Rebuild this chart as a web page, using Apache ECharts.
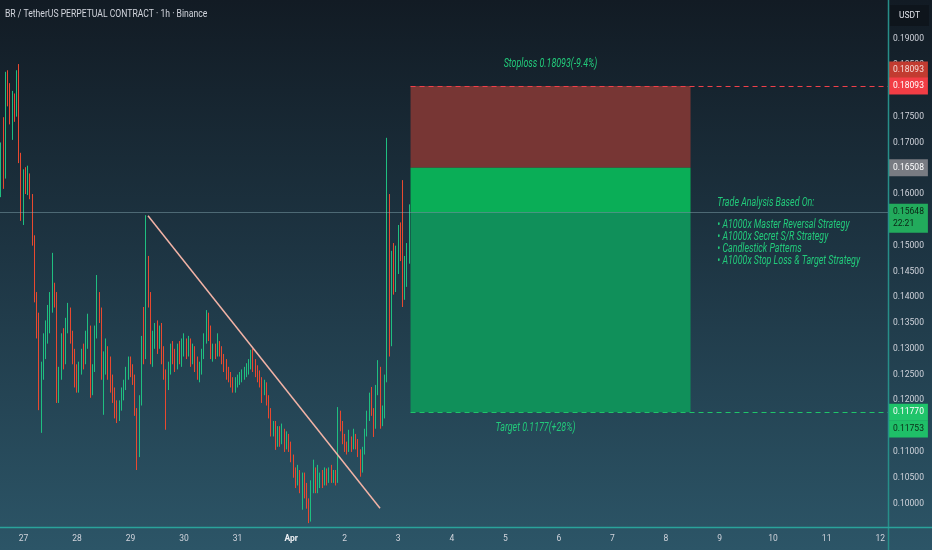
<!DOCTYPE html>
<html><head><meta charset="utf-8">
<script src="https://cdn.jsdelivr.net/npm/echarts@6/dist/echarts.min.js"></script>
<style>html,body{margin:0;padding:0;background:#131c25;}#c{width:932px;height:550px;}</style>
</head><body><div id="c"></div><script>
const titleText = 'BR / TetherUS PERPETUAL CONTRACT · 1h · Binance';
const currencyText = 'USDT';
const countdownText = '22:21';
const monthNames = ['Jan','Feb','Mar','Apr','May','Jun','Jul','Aug','Sep','Oct','Nov','Dec'];
// first hourly candle: 2025-03-26 14:00
const firstCandle = [2025, 2, 26, 14, 0];
// [open, close, low, high] per hour
const ohlc = [
[.1625,.1668,.1594,.1700],[.1668,.1640,.1610,.1749],[.1640,.1835,.1630,.1837],[.1835,.1800,.1770,.1840],
[.1800,.1760,.1735,.1815],[.1760,.1785,.1705,.1800],[.1785,.1760,.1740,.1795],[.1760,.1825,.1750,.1840],
[.1825,.1670,.1660,.1852],[.1670,.1560,.1548,.1680],[.1560,.1640,.1540,.1648],[.1640,.1620,.1600,.1652],
[.1620,.1630,.1598,.1655],[.1630,.1595,.1590,.1640],[.1595,.1510,.1500,.1600],[.1510,.1400,.1390,.1520],
[.1400,.1340,.1320,.1410],[.1340,.1195,.1181,.1370],[.1195,.1260,.1137,.1275],[.1260,.1300,.1240,.1330],
[.1300,.1340,.1280,.1355],[.1340,.1360,.1310,.1385],[.1360,.1390,.1330,.1410],[.1390,.1420,.1370,.1486],
[.1420,.1400,.1380,.1428],[.1400,.1210,.1195,.1410],[.1210,.1250,.1195,.1265],[.1250,.1310,.1240,.1330],
[.1310,.1280,.1260,.1340],[.1280,.1340,.1270,.1360],[.1340,.1370,.1330,.1389],[.1370,.1320,.1310,.1380],
[.1320,.1290,.1270,.1335],[.1290,.1240,.1225,.1300],[.1240,.1225,.1215,.1270],[.1225,.1260,.1215,.1275],
[.1260,.1290,.1250,.1300],[.1290,.1275,.1260,.1310],[.1275,.1320,.1270,.1335],[.1320,.1340,.1300,.1368],
[.1340,.1215,.1205,.1345],[.1215,.1260,.1210,.1270],[.1260,.1330,.1255,.1345],[.1330,.1395,.1320,.1443],
[.1395,.1370,.1350,.1410],[.1370,.1250,.1240,.1380],[.1250,.1280,.1172,.1295],[.1280,.1300,.1250,.1320],
[.1300,.1265,.1240,.1305],[.1265,.1230,.1215,.1285],[.1230,.1210,.1195,.1250],[.1210,.1180,.1165,.1225],
[.1180,.1165,.1156,.1200],[.1165,.1190,.1160,.1200],[.1190,.1210,.1180,.1225],[.1210,.1230,.1200,.1240],
[.1230,.1250,.1220,.1265],[.1250,.1270,.1240,.1285],[.1270,.1260,.1245,.1285],[.1260,.1240,.1230,.1270],
[.1240,.1180,.1170,.1250],[.1180,.1100,.1065,.1185],[.1100,.1200,.1090,.1210],[.1200,.1310,.1190,.1325],
[.1310,.1290,.1270,.1381],[.1290,.1466,.1280,.1559],[.1466,.1400,.1380,.1480],[.1400,.1290,.1270,.1410],
[.1290,.1320,.1265,.1335],[.1320,.1340,.1300,.1350],[.1340,.1310,.1290,.1355],[.1310,.1330,.1300,.1345],
[.1330,.1290,.1270,.1350],[.1290,.1250,.1240,.1305],[.1250,.1230,.1143,.1260],[.1230,.1260,.1220,.1275],
[.1260,.1300,.1250,.1310],[.1300,.1290,.1270,.1315],[.1290,.1275,.1255,.1300],[.1275,.1300,.1260,.1310],
[.1300,.1285,.1270,.1315],[.1285,.1300,.1265,.1320],[.1300,.1310,.1285,.1330],[.1310,.1295,.1280,.1320],
[.1295,.1310,.1285,.1325],[.1310,.1280,.1265,.1320],[.1280,.1300,.1270,.1310],[.1300,.1270,.1255,.1305],
[.1270,.1255,.1240,.1285],[.1255,.1260,.1235,.1275],[.1260,.1290,.1250,.1300],[.1290,.1320,.1280,.1330],
[.1320,.1350,.1310,.1375],[.1350,.1335,.1315,.1370],[.1335,.1285,.1280,.1345],[.1285,.1300,.1275,.1310],
[.1300,.1290,.1280,.1310],[.1290,.1305,.1285,.1330],[.1305,.1295,.1285,.1315],[.1295,.1280,.1270,.1305],
[.1280,.1270,.1255,.1290],[.1270,.1255,.1240,.1280],[.1255,.1245,.1235,.1265],[.1245,.1235,.1225,.1255],
[.1235,.1225,.1215,.1245],[.1225,.1235,.1215,.1245],[.1235,.1240,.1225,.1250],[.1240,.1245,.1230,.1255],
[.1245,.1250,.1235,.1260],[.1250,.1255,.1240,.1265],[.1255,.1262,.1245,.1272],[.1262,.1268,.1250,.1280],
[.1268,.1285,.1260,.1298],[.1285,.1270,.1255,.1300],[.1270,.1260,.1245,.1280],[.1260,.1250,.1235,.1268],
[.1250,.1240,.1225,.1258],[.1240,.1225,.1195,.1245],[.1225,.1230,.1210,.1240],[.1230,.1200,.1190,.1235],
[.1200,.1175,.1165,.1210],[.1175,.1140,.1130,.1185],[.1140,.1150,.1130,.1160],[.1150,.1125,.1104,.1160],
[.1125,.1140,.1110,.1150],[.1140,.1130,.1110,.1150],[.1130,.1140,.1115,.1155],[.1140,.1120,.1100,.1145],
[.1120,.1130,.1105,.1140],[.1130,.1115,.1100,.1135],[.1115,.1090,.1080,.1120],[.1090,.1060,.1050,.1095],
[.1060,.1045,.1030,.1070],[.1045,.1060,.1035,.1075],[.1060,.1040,.1020,.1065],[.1040,.1050,.0988,.1060],
[.1050,.1030,.1010,.1060],[.1030,.1005,.0990,.1040],[.1005,.0975,.0962,.1010],[.0975,.1030,.0965,.1045],
[.1030,.1045,.1020,.1085],[.1045,.1035,.1020,.1070],[.1035,.1040,.1020,.1075],[.1040,.1050,.1030,.1060],
[.1050,.1040,.1030,.1065],[.1040,.1055,.1035,.1070],[.1055,.1045,.1035,.1068],[.1045,.1060,.1040,.1070],
[.1060,.1050,.1040,.1075],[.1050,.1055,.1040,.1065],[.1055,.1045,.1035,.1065],[.1045,.1168,.1040,.1187],
[.1168,.1150,.1140,.1180],[.1150,.1125,.1115,.1160],[.1125,.1110,.1100,.1135],[.1110,.1105,.1095,.1120],
[.1105,.1120,.1100,.1143],[.1120,.1110,.1100,.1130],[.1110,.1125,.1105,.1145],[.1125,.1115,.1105,.1135],
[.1115,.1100,.1090,.1125],[.1100,.1075,.1052,.1105],[.1075,.1100,.1060,.1110],[.1100,.1135,.1095,.1145],
[.1135,.1165,.1130,.1180],[.1165,.1190,.1160,.1215],[.1190,.1180,.1170,.1226],[.1180,.1150,.1129,.1185],
[.1150,.1215,.1145,.1230],[.1215,.1260,.1210,.1278],[.1260,.1160,.1145,.1265],[.1160,.1175,.1150,.1190],
[.1175,.1240,.1165,.1250],[.1240,.1590,.1235,.1709],[.1590,.1312,.1285,.1600],[.1312,.1450,.1305,.1490],
[.1450,.1420,.1405,.1505],[.1420,.1480,.1410,.1500],[.1480,.1530,.1445,.1540],[.1530,.1500,.1470,.1545],
[.1500,.1400,.1381,.1627],[.1400,.1460,.1395,.1480],[.1460,.1470,.1420,.1505],[.1470,.15648,.1465,.1580]
];
const axisStart = [2025, 2, 26, 13, 30];
const axisEnd = [2025, 3, 12, 3, 30];
const priceMin = 0.09545, priceMax = 0.19762;
const stopPrice = 0.18093, entryPrice = 0.16508, lastPrice = 0.15648, targetPrice = 0.1177, targetTagPrice = 0.11753;
const positionStart = [2025, 3, 3, 5, 30];
const positionEnd = [2025, 3, 8, 11, 0];
const trendLine = [[[2025, 2, 29, 7, 50], 0.1558], [[2025, 3, 2, 15, 50], 0.0991]];
const stopLabel = 'Stoploss 0.18093(-9.4%)';
const targetLabel = 'Target 0.1177(+28%)';
const analysisTitle = 'Trade Analysis Based On:';
const analysisItems = ['A1000x Master Reversal Strategy', 'A1000x Secret S/R Strategy', 'Candlestick Patterns', 'A1000x Stop Loss & Target Strategy'];
const analysisAnchor = [2025, 3, 8, 23, 0];
const analysisTitlePrice = 0.15826, analysisItemsPrice = 0.15051;

const HOUR = 3600 * 1000, DAY = 24 * HOUR;
const T = a => new Date(a[0], a[1], a[2], a[3] || 0, a[4] || 0).getTime();
const t0 = T(firstCandle);
const candles = ohlc.map((r, i) => [t0 + i * HOUR, r[0], r[1], r[2], r[3]]);
const font = "Roboto, 'Liberation Sans', sans-serif";
const txt = '#d1d4dc', annoGreen = '#22c97a';
const pS = T(positionStart), pE = T(positionEnd), xMin = T(axisStart), xMax = T(axisEnd);
const FS = 8.5;

function tag(value, bg, fg, dy, text, lineColor) {
  return [{ coord: [xMin, value] }, { coord: [xMax, value],
    lineStyle: { color: lineColor || 'rgba(0,0,0,0)', width: 1, type: 'solid' },
    label: { show: true, position: 'end', distance: 1, formatter: text || value.toFixed(5), backgroundColor: bg,
      color: fg, padding: [3, 4, 2, 4], fontSize: FS, lineHeight: 12, fontFamily: font, offset: [0, dy] } }];
}

const chart = echarts.init(document.getElementById('c'), null, { renderer: 'canvas' });
chart.setOption({
  animation: false,
  backgroundColor: { type: 'linear', x: 0, y: 0, x2: 0, y2: 1, colorStops: [
    { offset: 0, color: '#121b24' }, { offset: 0.45, color: '#1d3442' }, { offset: 1, color: '#2c5567' }] },
  grid: { left: 0, right: 44, top: 0, bottom: 23 },
  xAxis: { type: 'time', min: xMin, max: xMax, minInterval: DAY, maxInterval: DAY,
    splitLine: { show: false }, axisLine: { show: false }, axisTick: { show: false },
    axisLabel: { color: txt, fontSize: FS, margin: 7, fontFamily: font, showMinLabel: false, showMaxLabel: false,
      formatter: v => { const d = new Date(v); if (d.getHours() || d.getMinutes()) return '';
        return d.getDate() === 1 ? '{b|' + monthNames[d.getMonth()] + '}' : String(d.getDate()); },
      rich: { b: { fontWeight: 'bold', color: '#eef0f4', fontSize: FS, fontFamily: font } } } },
  yAxis: { type: 'value', position: 'right', min: priceMin, max: priceMax, splitNumber: 20,
    minInterval: 0.005, maxInterval: 0.005, splitLine: { show: false }, axisLine: { show: false }, axisTick: { show: false },
    axisLabel: { color: txt, fontSize: FS, margin: 5, fontFamily: font, showMinLabel: false, showMaxLabel: false,
      formatter: v => v.toFixed(5) } },
  series: [{
    type: 'candlestick', clip: false, data: candles, encode: { x: 0, y: [1, 2, 3, 4] }, barWidth: 1,
    itemStyle: { color: '#1fbf80', color0: '#e9492f', borderColor: '#1fbf80', borderColor0: '#e9492f', borderWidth: 1 },
    markArea: { silent: true, label: { show: false }, data: [
      [{ xAxis: pS, yAxis: stopPrice, itemStyle: { color: '#773634' } }, { xAxis: pE, yAxis: entryPrice }],
      [{ xAxis: pS, yAxis: entryPrice, itemStyle: { color: '#0aae57' } }, { xAxis: pE, yAxis: lastPrice }],
      [{ xAxis: pS, yAxis: lastPrice, itemStyle: { color: '#10905a' } }, { xAxis: pE, yAxis: targetPrice }]
    ] },
    markLine: { silent: true, symbol: 'none', precision: 6, label: { show: false }, data: [
      [{ coord: [T(trendLine[0][0]), trendLine[0][1]] }, { coord: [T(trendLine[1][0]), trendLine[1][1]], lineStyle: { color: '#f2b3a6', width: 1.5, type: 'solid' } }],
      [{ coord: [pS, stopPrice] }, { coord: [xMax, stopPrice], lineStyle: { color: '#f0404a', width: 1.2, type: [5, 4] } }],
      [{ coord: [pS, targetPrice] }, { coord: [xMax, targetPrice], lineStyle: { color: '#1fc46a', width: 1.2, type: [5, 4] } }],
      tag(lastPrice, '#22ab5c', '#0b2416', 6, lastPrice.toFixed(5) + '\n' + countdownText, 'rgba(140,175,185,0.45)'),
      tag(stopPrice, '#c23b30', '#f6dcd8', -16),
      tag(stopPrice, '#f23d45', '#ffffff', 0),
      tag(entryPrice, '#787b82', '#ffffff', 0),
      tag(targetPrice, '#1fc46a', '#ffffff', 0),
      tag(targetTagPrice, '#1fbf68', '#0b2a16', 16)
    ] }
  }]
});

// annotation texts anchored to the position tool via the chart's own scales
const px = (t, p) => chart.convertToPixel({ gridIndex: 0 }, [t, p]);
const a = px(pS, stopPrice), b = px(pE, targetPrice), h = px(T(analysisAnchor), analysisTitlePrice), it = px(T(analysisAnchor), analysisItemsPrice);
const midX = (a[0] + b[0]) / 2;
const ital = { fill: annoGreen, fontSize: 12, fontStyle: 'italic', fontFamily: font, verticalAlign: 'middle' };
const SX = 0.74;
chart.setOption({ graphic: [
  { type: 'line', z: 50, silent: true, shape: { x1: 888.5, y1: 0, x2: 888.5, y2: 550 }, style: { stroke: '#278e89', lineWidth: 1.5 } },
  { type: 'line', z: 50, silent: true, shape: { x1: 0, y1: 527.5, x2: 932, y2: 527.5 }, style: { stroke: '#2aa39b', lineWidth: 1.5 } },
  { type: 'rect', z: 50, silent: true, shape: { x: 890, y: 5, width: 39, height: 21 }, style: { fill: '#0e151c' } },
  { type: 'text', z: 51, silent: true, x: 909.5, y: 15.5, style: { text: currencyText, fill: '#e0e3ea', fontSize: FS, fontFamily: font, align: 'center', verticalAlign: 'middle' } },
  { type: 'text', z: 51, silent: true, x: 5, y: 14.5, scaleX: 0.82, style: { text: titleText, fill: txt, fontSize: 10.5, fontFamily: font, align: 'left', verticalAlign: 'middle' } },
  { type: 'text', z: 30, silent: true, x: midX, y: a[1] - 22, scaleX: SX, style: Object.assign({ text: stopLabel, align: 'center' }, ital) },
  { type: 'text', z: 30, silent: true, x: midX - 15, y: b[1] + 16, scaleX: SX, style: Object.assign({ text: targetLabel, align: 'center' }, ital) },
  { type: 'text', z: 30, silent: true, x: h[0], y: h[1], scaleX: SX, style: Object.assign({ text: analysisTitle, align: 'left' }, ital) },
  { type: 'text', z: 30, silent: true, x: it[0], y: it[1], scaleX: SX, style: Object.assign({ text: analysisItems.map(s => '• ' + s).join('\n'), align: 'left', lineHeight: 12 }, ital) }
] });
</script></body></html>
